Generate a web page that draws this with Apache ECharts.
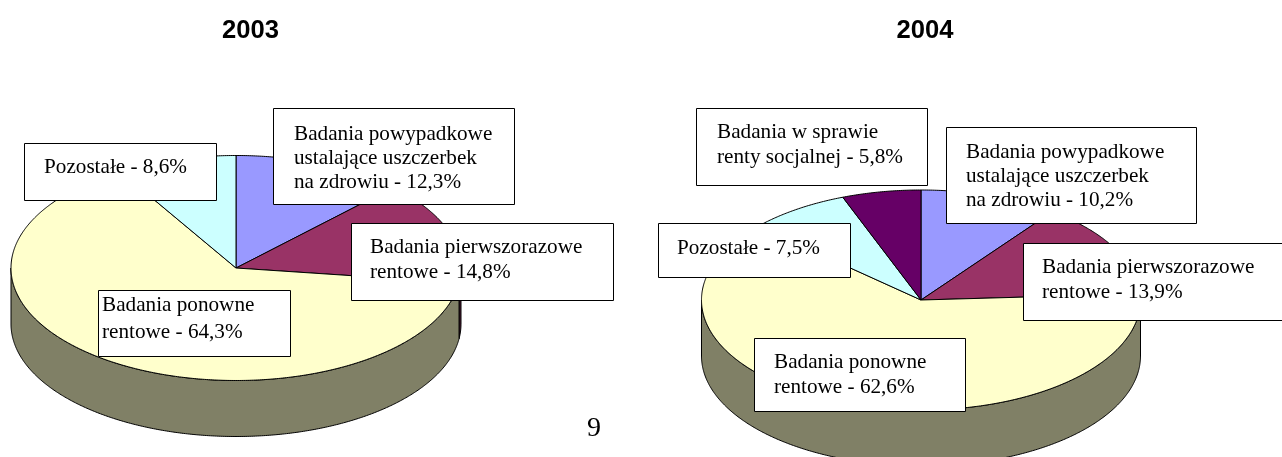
<!DOCTYPE html>
<html><head><meta charset="utf-8">
<style>html,body{margin:0;padding:0;background:#fff}#c{width:1282px;height:457px}</style>
<script src="https://cdn.jsdelivr.net/npm/echarts@6/dist/echarts.min.js"></script>
</head><body><div id="c"></div>
<script>
var categories2003 = ['Badania powypadkowe ustalające uszczerbek na zdrowiu','Badania pierwszorazowe rentowe','Badania ponowne rentowe','Pozostałe'];
var values2003 = [12.3,14.8,64.3,8.6];
var colors2003 = ['#9999FF','#993366','#FFFFCC','#CCFFFF'];
var categories2004 = ['Badania powypadkowe ustalające uszczerbek na zdrowiu','Badania pierwszorazowe rentowe','Badania ponowne rentowe','Pozostałe','Badania w sprawie renty socjalnej'];
var values2004 = [10.2,13.9,62.6,7.5,5.8];
var colors2004 = ['#9999FF','#993366','#FFFFCC','#CCFFFF','#660066'];
var titles = ['2003','2004'];
var pageNumber = '9';

var sideColors = {'#9999FF':'#4D4D80','#993366':'#4D1A33','#FFFFCC':'#808066','#CCFFFF':'#668080','#660066':'#330033'};

function pieSeries(name, cats, vals, cols, cx, cy, rx, ry, depth){
  var total = vals.reduce(function(a,b){return a+b;},0);
  var starts = []; var acc = 0;
  vals.forEach(function(v){starts.push(acc); acc += v;});
  function pt(deg, dy){
    var a = deg*Math.PI/180;
    return [cx + rx*Math.sin(a), cy - ry*Math.cos(a) + (dy||0)];
  }
  return {
    type:'custom', name:name, coordinateSystem:'none', silent:true,
    data: vals.map(function(v,i){return {name:cats[i], value:[v]};}),
    renderItem:function(params, api){
      var i = params.dataIndex;
      var a0 = starts[i]/total*360, a1 = (starts[i]+api.value(0))/total*360;
      var children = [];
      var sa0 = Math.max(a0,90), sa1 = Math.min(a1,270);
      if (sa1 > sa0){
        var side = [], d;
        for (d=sa0; d<sa1; d+=0.5) side.push(pt(d,0));
        side.push(pt(sa1,0));
        for (d=sa1; d>sa0; d-=0.5) side.push(pt(d,depth));
        side.push(pt(sa0,depth));
        children.push({type:'polygon', z2:1, shape:{points:side},
          style:{fill:sideColors[cols[i]], stroke:'#000', lineWidth:1}});
      }
      var top = [[cx,cy]];
      for (var e=a0; e<a1; e+=0.5) top.push(pt(e,0));
      top.push(pt(a1,0));
      children.push({type:'polygon', z2:5, shape:{points:top},
        style:{fill:cols[i], stroke:'#000', lineWidth:1}});
      return {type:'group', children:children};
    }
  };
}

function box(x,y,w,h,lines,tx,ty,lh){
  return {type:'group', z:20, children:[
    {type:'rect', z:20, shape:{x:x+.5,y:y+.5,width:w,height:h}, style:{fill:'#fff',stroke:'#000',lineWidth:1}},
    {type:'text', z:21, x:tx, y:ty, style:{text:lines.join('\n'), font:'21.2px "Liberation Serif"', lineHeight:lh, fill:'#000', textVerticalAlign:'top'}}
  ]};
}
function title(x,y,t){
  return {type:'text', z:21, x:x, y:y, style:{text:t, font:'bold 25.6px "Liberation Sans"', fill:'#000', textAlign:'center', textVerticalAlign:'middle'}};
}
var pct = function(v){return String(v).replace('.',',')+'%';};

var chart = echarts.init(document.getElementById('c'));
chart.setOption({
  animation:false,
  backgroundColor:'#fff',
  series:[
    pieSeries('2003',categories2003,values2003,colors2003,236,268,225,112.5,56),
    pieSeries('2004',categories2004,values2004,colors2004,921,300,219.5,110,56)
  ],
  graphic:{elements:[
    title(250.5,31,titles[0]),
    title(925,31,titles[1]),
    {type:'text', z:21, x:594, y:429, style:{text:pageNumber, font:'28px "Liberation Serif"', fill:'#000', textAlign:'center', textVerticalAlign:'middle'}},
    box(273,108,241,96,['Badania powypadkowe','ustalające uszczerbek','na zdrowiu - '+pct(values2003[0])],294,122,24),
    box(24,143,192,57,['Pozostałe - '+pct(values2003[3])],44,155,24.5),
    box(351,223,262,77,['Badania pierwszorazowe','rentowe - '+pct(values2003[1])],370,235,25),
    box(98,290,192,66,['Badania ponowne','rentowe - '+pct(values2003[2])],102,292,27),
    box(696,108,231,77,['Badania w sprawie','renty socjalnej - '+pct(values2004[4])],717,120,25),
    box(946,127,250,96,['Badania powypadkowe','ustalające uszczerbek','na zdrowiu - '+pct(values2004[0])],966,140,24),
    box(658,223,192,54,['Pozostałe - '+pct(values2004[3])],677,236,24.5),
    box(1023,243,259,77,['Badania pierwszorazowe','rentowe - '+pct(values2004[1])],1042,255,25),
    box(754,338,211,73,['Badania ponowne','rentowe - '+pct(values2004[2])],774,350,25)
  ]}
});
</script></body></html>
